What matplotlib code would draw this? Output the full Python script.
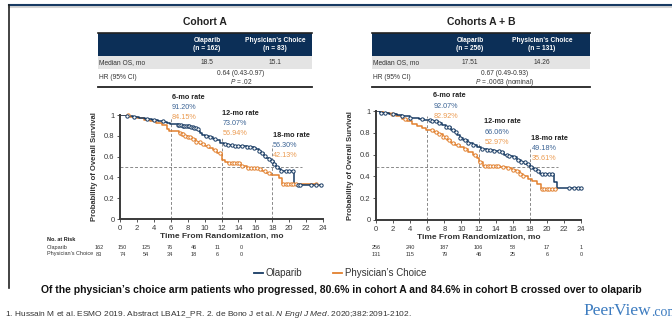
# Olaparib vs physician's choice - overall survival slide
import numpy as np
import matplotlib
matplotlib.use("Agg")
from matplotlib import pyplot as plt
from matplotlib.patches import Rectangle
from matplotlib.lines import Line2D

plt.rcParams['font.family'] = ['Liberation Sans', 'DejaVu Sans']
plt.rcParams['mathtext.fontset'] = 'custom'
plt.rcParams['mathtext.it'] = 'Liberation Sans:italic'
plt.rcParams['mathtext.rm'] = 'Liberation Sans'

# ---- data ----
# Cohort A, Kaplan-Meier steps (time in months, survival)
a_ola_t = [0, 0.8, 1.5, 2.2, 3.0, 3.8, 4.5, 5.2, 5.6, 5.9, 6.8, 7.3, 7.8, 8.3, 8.8, 9.1, 9.3,
           9.5, 9.7, 10.0, 10.5, 11.0, 11.4, 11.8, 12.3, 12.8, 13.3, 14.0, 15.0, 15.8, 16.1,
           16.4, 16.7, 17.0, 17.3, 17.6, 17.9, 18.2, 18.5, 18.8, 19.0, 20.6, 23.9]
a_ola_s = [1.0, 0.99, 0.98, 0.97, 0.96, 0.955, 0.945, 0.935, 0.925, 0.912, 0.90, 0.895, 0.89,
           0.885, 0.875, 0.865, 0.85, 0.83, 0.81, 0.795, 0.785, 0.77, 0.755, 0.73, 0.725, 0.715,
           0.705, 0.70, 0.695, 0.685, 0.67, 0.65, 0.63, 0.61, 0.59, 0.575, 0.56, 0.53, 0.50,
           0.48, 0.46, 0.33, 0.33]
a_pc_t = [0, 1.2, 2.0, 2.8, 3.5, 4.3, 5.0, 5.5, 5.8, 7.0, 7.3, 7.6, 8.0, 8.5, 9.0, 9.5, 10.0,
          10.5, 11.0, 11.5, 12.0, 12.4, 12.8, 14.3, 15.0, 16.3, 16.8, 17.3, 17.9, 18.8, 19.2, 23.3]
a_pc_s = [1.0, 0.985, 0.97, 0.955, 0.94, 0.92, 0.90, 0.87, 0.8415, 0.83, 0.815, 0.80, 0.785,
          0.765, 0.745, 0.725, 0.705, 0.685, 0.66, 0.63, 0.57, 0.55, 0.535, 0.51, 0.495, 0.48,
          0.465, 0.445, 0.42, 0.39, 0.335, 0.335]
a_ola_cens = [0.8, 1.7, 3.2, 4.0, 5.1, 6.8, 7.0, 7.2, 7.4, 7.6, 7.8, 8.0, 8.2, 8.4, 8.6, 8.8,
              9.0, 9.2, 10.2, 10.6, 11.2, 12.4, 12.8, 13.2, 13.6, 14.0, 14.4, 15.0, 15.4, 15.8,
              16.4, 16.8, 17.2, 17.6, 18.0, 18.2, 18.6, 19.0, 19.6, 20.0, 20.4, 21.0, 21.3,
              22.6, 23.2, 23.8]
a_pc_cens = [1.0, 7.1, 7.3, 7.5, 7.7, 8.0, 8.3, 8.6, 9.0, 9.4, 9.8, 10.4, 11.2, 11.8, 12.9,
             13.2, 13.5, 13.8, 14.1, 14.4, 15.1, 15.5, 15.9, 16.2, 16.6, 17.2, 17.6, 19.3,
             19.6, 19.9, 20.2, 20.5, 20.8, 23.2]

# Cohorts A + B
ab_ola_t = [0, 0.5, 1.5, 2.5, 3.0, 4.0, 5.0, 5.6, 6.5, 7.2, 7.7, 8.2, 8.8, 9.2, 9.5, 9.8, 10.2,
            10.8, 11.3, 11.8, 12.3, 13.0, 13.8, 14.5, 15.0, 15.6, 16.0, 16.5, 17.0, 17.5, 18.0,
            18.4, 18.8, 19.2, 20.8, 21.2, 24.0]
ab_ola_s = [1.0, 0.985, 0.975, 0.965, 0.95, 0.94, 0.93, 0.92, 0.905, 0.89, 0.87, 0.85, 0.83,
            0.81, 0.78, 0.755, 0.73, 0.71, 0.69, 0.67, 0.655, 0.645, 0.635, 0.62, 0.60, 0.59,
            0.575, 0.555, 0.535, 0.51, 0.49, 0.47, 0.45, 0.42, 0.35, 0.29, 0.29]
ab_pc_t = [0, 0.8, 1.6, 2.3, 3.0, 3.6, 4.2, 4.8, 5.4, 5.9, 6.8, 7.3, 7.8, 8.3, 8.8, 9.3, 9.8,
           10.3, 10.8, 11.3, 11.8, 12.1, 12.5, 14.5, 15.3, 15.9, 16.4, 16.8, 17.2, 17.8, 18.3,
           18.8, 19.3, 21.2]
ab_pc_s = [1.0, 0.985, 0.97, 0.955, 0.93, 0.91, 0.885, 0.86, 0.84, 0.83, 0.805, 0.785, 0.76,
           0.735, 0.71, 0.69, 0.67, 0.65, 0.625, 0.60, 0.57, 0.53, 0.50, 0.49, 0.475, 0.46,
           0.445, 0.42, 0.40, 0.38, 0.36, 0.33, 0.28, 0.28]
ab_ola_cens = [0.6, 1.1, 2.0, 3.1, 4.0, 5.4, 6.3, 6.6, 7.0, 7.4, 8.2, 8.6, 9.0, 9.4, 9.8, 10.4,
               10.8, 11.4, 12.4, 13.0, 13.4, 13.8, 14.4, 14.8, 15.3, 15.6, 16.2, 16.6, 17.0,
               17.4, 17.8, 18.2, 18.6, 19.0, 19.4, 19.8, 20.2, 20.6, 22.6, 23.2, 23.6, 24.0]
ab_pc_cens = [1.9, 3.4, 6.6, 7.0, 7.4, 7.8, 8.2, 8.6, 9.0, 9.6, 10.4, 11.6, 12.2, 12.8, 13.1,
              13.4, 13.7, 14.0, 14.3, 14.9, 15.5, 16.0, 16.5, 16.9, 17.2, 19.4, 19.7, 20.0,
              20.3, 20.6, 21.0]

# landmark rates
rate_months = [6, 12, 18]
a_ola_rates = ["91.20%", "73.07%", "56.30%"]
a_pc_rates = ["84.15%", "56.94%", "42.13%"]
ab_ola_rates = ["92.07%", "66.06%", "49.18%"]
ab_pc_rates = ["82.92%", "52.97%", "35.61%"]

# number at risk
risk_months = [0, 4, 8, 12, 16, 20, 24]
a_risk_ola = [162, 150, 125, 76, 46, 11, 0]
a_risk_pc = [83, 74, 54, 34, 18, 6, 0]
ab_risk_ola = [256, 240, 187, 106, 58, 17, 1]
ab_risk_pc = [131, 115, 79, 46, 25, 6, 0]

# ---- style ----
NAVY = "#173a63"
ORANGE = "#e2802e"
NAVY_TXT = "#3b6394"
ORANGE_TXT = "#eb9a4f"
HEAD = "#0c2f57"
DARK = "#333333"

W, H = 672, 320
fig = plt.figure(figsize=(W / 100, H / 100), dpi=100)


def ftxt(x, y, s, **kw):
    return fig.text(x / W, 1 - y / H, s, **kw)


def fline(x0, x1, y0, y1, **kw):
    fig.add_artist(Line2D([x0 / W, x1 / W], [1 - y0 / H, 1 - y1 / H],
                          transform=fig.transFigure, **kw))


def frect(x0, y0, x1, y1, color):
    fig.add_artist(Rectangle((x0 / W, 1 - y1 / H), (x1 - x0) / W, (y1 - y0) / H,
                             transform=fig.transFigure, color=color, lw=0))


# slide frame
fline(9, 672, 7, 7, color="#d4d4d4", lw=1.5)
fline(9, 672, 5, 5, color=NAVY, lw=1.5)
fline(9, 9, 5, 288, color="#222222", lw=1.2)


def drawTable(x0, x1, c1, c2, cmid, title, n1, n2, med1, med2, hr, pval):
    ftxt((x0 + x1) / 2, 22, title, ha="center", va="center", fontsize=7.5,
         fontweight="bold", color="#222222")
    frect(x0, 33, x1, 56, HEAD)
    fline(x0, x1, 33, 33, color="#222222", lw=1.2)
    frect(x0, 56, x1, 69, "#e4e4e4")
    fline(x0, x1, 87, 87, color="#222222", lw=1.3)
    ftxt(c1, 44.5, "Olaparib\n(n = {})".format(n1), ha="center", va="center",
         fontsize=4.8, fontweight="bold", color="white", linespacing=1.3)
    ftxt(c2, 44.5, "Physician’s Choice\n(n = {})".format(n2), ha="center", va="center",
         fontsize=4.8, fontweight="bold", color="white", linespacing=1.3)
    ftxt(x0 + 1, 62.5, "Median OS, mo", ha="left", va="center", fontsize=4.8, color=DARK)
    ftxt(c1, 62.5, med1, ha="center", va="center", fontsize=4.8, color=DARK)
    ftxt(c2, 62.5, med2, ha="center", va="center", fontsize=4.8, color=DARK)
    ftxt(x0 + 1, 77.5, "HR (95% CI)", ha="left", va="center", fontsize=4.8, color=DARK)
    ftxt(cmid, 73.5, hr, ha="center", va="center", fontsize=4.8, color=DARK)
    ftxt(cmid, 82, pval, ha="center", va="center", fontsize=4.8, color=DARK)


drawTable(98, 312, 207, 275, 241, "Cohort A", 162, 83, "18.5", "15.1",
          "0.64 (0.43-0.97)", r"$\it{P}$ = .02")
drawTable(372, 590, 470, 542, 505, "Cohorts A + B", 256, 131, "17.51", "14.26",
          "0.67 (0.49-0.93)", r"$\it{P}$ = .0063 (nominal)")


def stepValue(t, s, x):
    # KM value at time x
    idx = np.searchsorted(t, x, side="right") - 1
    return np.array(s)[idx]


def drawKM(rect, ola_t, ola_s, pc_t, pc_s, ola_c, pc_c, ola_r, pc_r, vtops, hy, hx, lab_pos):
    ax = fig.add_axes(rect)
    ax.axhline(hy, xmax=hx / 24, color="#8a8a8a", ls=(0, (3, 2)), lw=0.7)
    for m, top in zip(rate_months, vtops):
        ax.plot([m, m], [0, top], color="#8a8a8a", ls=(0, (3, 2)), lw=0.7)
    ax.step(pc_t, pc_s, where="post", color=ORANGE, lw=1.1)
    ax.step(ola_t, ola_s, where="post", color=NAVY, lw=1.1)
    ax.plot(pc_c, stepValue(pc_t, pc_s, pc_c), "o", ms=2.4, mfc="white", mec=ORANGE,
            mew=0.7, clip_on=False)
    ax.plot(ola_c, stepValue(ola_t, ola_s, ola_c), "o", ms=2.4, mfc="white", mec=NAVY,
            mew=0.7, clip_on=False)
    ax.set_xlim(0, 24)
    ax.set_ylim(0, 1)
    ax.set_xticks(np.arange(0, 25, 2))
    ax.set_yticks(np.arange(0, 1.01, 0.2))
    ax.set_yticklabels(["0", "0.2", "0.4", "0.6", "0.8", "1"])
    for sp in ["top", "right"]:
        ax.spines[sp].set_visible(False)
    for sp in ["left", "bottom"]:
        ax.spines[sp].set_linewidth(1.4)
        ax.spines[sp].set_color("#3a3a3a")
    ax.tick_params(labelsize=5.5, length=2, width=0.6, colors="#3a3a3a", pad=2)
    ax.set_xlabel("Time From Randomization, mo", fontsize=6, fontweight="bold",
                  color="#333333", labelpad=1)
    ax.set_ylabel("Probability of Overall Survival", fontsize=5.5, fontweight="bold",
                  color="#333333", labelpad=4)
    # landmark rate labels
    for i in range(3):
        x, y = lab_pos[i]
        ax.text(x, y, "{}-mo rate".format(rate_months[i]), fontsize=5.2, fontweight="bold",
                color="#222222", ha="left", va="center", clip_on=False)
        ax.text(x, y - 0.095, ola_r[i], fontsize=5.2, color=NAVY_TXT, ha="left",
                va="center", clip_on=False)
        ax.text(x, y - 0.19, pc_r[i], fontsize=5.2, color=ORANGE_TXT, ha="left",
                va="center", clip_on=False)
    return ax


drawKM([120 / W, 1 - 219 / H, 203 / W, 104 / H], a_ola_t, a_ola_s, a_pc_t, a_pc_s,
       a_ola_cens, a_pc_cens, a_ola_rates, a_pc_rates, [0.98, 0.78, 0.71], 0.5, 21.5,
       [(6.1, 1.17), (12.1, 1.01), (18.1, 0.80)])
drawKM([376 / W, 1 - 220 / H, 205 / W, 109 / H], ab_ola_t, ab_ola_s, ab_pc_t, ab_pc_s,
       ab_ola_cens, ab_pc_cens, ab_ola_rates, ab_pc_rates, [0.95, 0.72, 0.66], 0.49, 21.3,
       [(6.7, 1.14), (12.7, 0.90), (18.2, 0.75)])

# number at risk
RFS = 4.0
ftxt(47, 239.5, "No. at Risk", ha="left", va="center", fontsize=RFS, fontweight="bold",
     color="#222222")
ftxt(47, 247.5, "Olaparib", ha="left", va="center", fontsize=RFS, color=DARK)
ftxt(47, 254, "Physician’s Choice", ha="left", va="center", fontsize=RFS, color=DARK)
for i in range(len(risk_months)):
    xa = 99 + 23.7 * i
    xb = 376 + 205 * risk_months[i] / 24
    ftxt(xa, 247.5, str(a_risk_ola[i]), ha="center", va="center", fontsize=RFS, color=DARK)
    ftxt(xa, 254, str(a_risk_pc[i]), ha="center", va="center", fontsize=RFS, color=DARK)
    ftxt(xb, 247.5, str(ab_risk_ola[i]), ha="center", va="center", fontsize=RFS, color=DARK)
    ftxt(xb, 254.5, str(ab_risk_pc[i]), ha="center", va="center", fontsize=RFS, color=DARK)

# legend
fline(254, 263, 273, 273, color=NAVY, lw=1.3)
ftxt(266, 273, "Olaparib", ha="left", va="center", fontsize=7, color="#333333")
fline(333, 342, 273, 273, color=ORANGE, lw=1.3)
ftxt(345, 273, "Physician’s Choice", ha="left", va="center", fontsize=7, color="#333333")

ftxt(341, 290, "Of the physician’s choice arm patients who progressed, 80.6% in cohort A "
     "and 84.6% in cohort B crossed over to olaparib", ha="center", va="center",
     fontsize=7.5, fontweight="bold", color="#111111")
ftxt(5, 315, r"1. Hussain M et al. ESMO 2019. Abstract LBA12_PR. 2. de Bono J et al. "
     r"$\it{N\ Engl\ J\ Med}$. 2020;382:2091-2102.", ha="left", va="center",
     fontsize=6, color="#333333")
pv = ftxt(583, 311, "PeerView", ha="left", va="center", fontsize=12.5,
          family=["Liberation Serif", "DejaVu Serif"], color="#3d7cc0")
fig.canvas.draw()
pv_end = pv.get_window_extent().x1
ftxt(pv_end, 313, ".com", ha="left", va="center", fontsize=10,
     family=["Liberation Serif", "DejaVu Serif"], color="#3d7cc0")

fig.savefig("out.png", dpi=100)
